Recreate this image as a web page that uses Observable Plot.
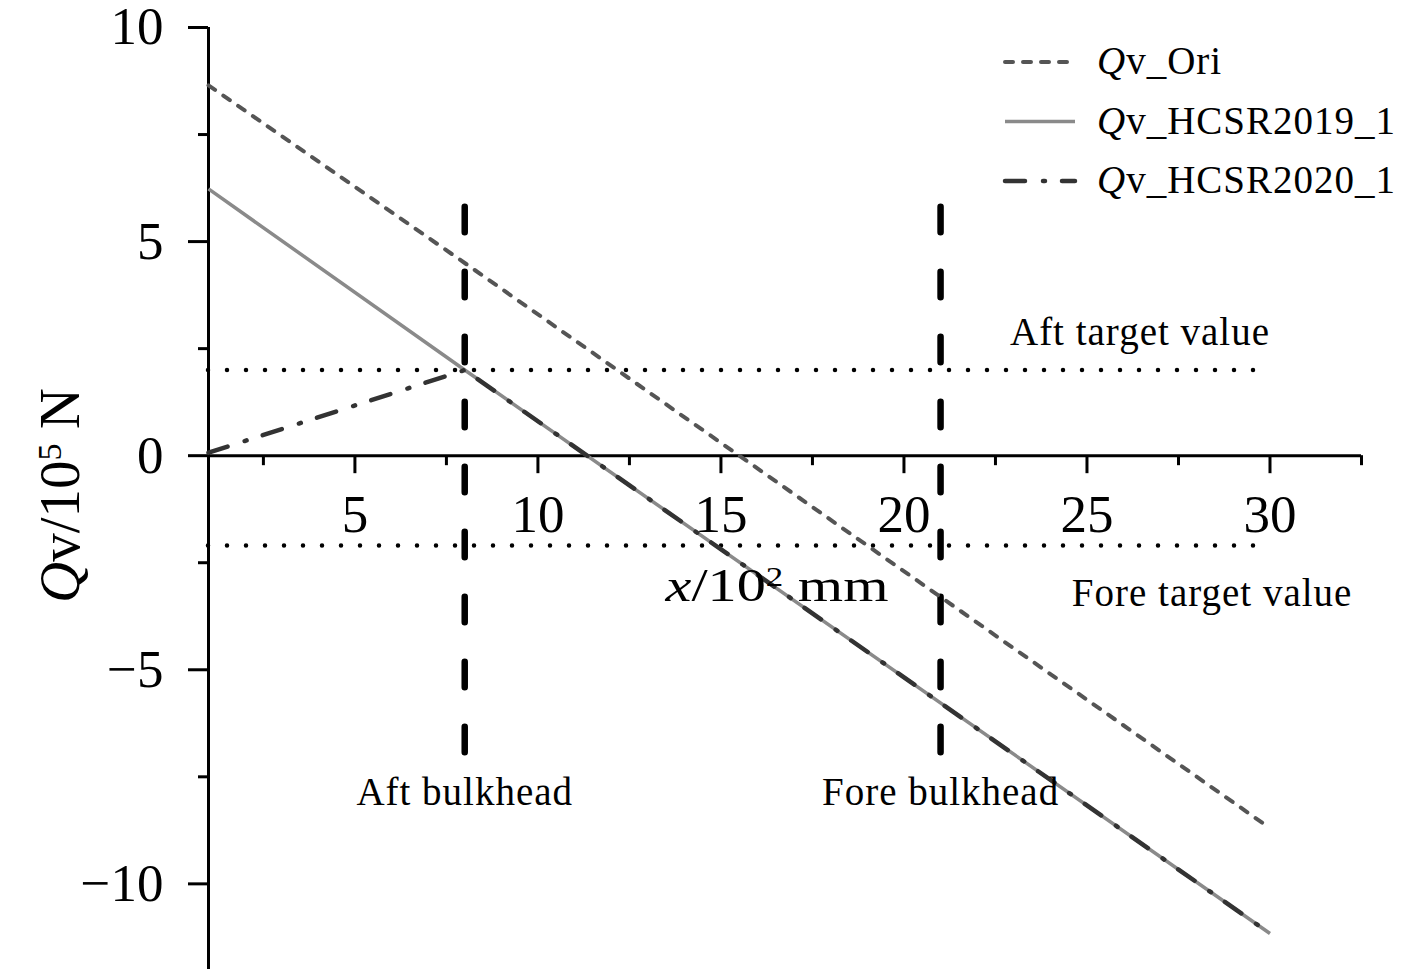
<!DOCTYPE html>
<html>
<head>
<meta charset="utf-8">
<script src="https://cdn.jsdelivr.net/npm/d3@7"></script>
<script src="https://cdn.jsdelivr.net/npm/@observablehq/plot@0.6"></script>
<style>
html, body { margin: 0; padding: 0; background: #fff; }
#wrap { position: relative; width: 1417px; height: 969px; overflow: hidden; background: #fff; }
#wrap svg { overflow: visible; }
#legend { position: absolute; left: 0; top: 0; pointer-events: none; }
</style>
</head>
<body>
<div id="wrap"></div>
<script>
// ---- data ----
const positions = [1, 8, 30];                 // x / 10^2 mm
const qvOri = [8.65, 4.5, -8.7];              // Qv / 10^5 N
const qvHCSR2019 = [6.23, 2.0, -11.16];
const qvHCSR2020 = [0.07, 2.0, -11.16];
const seriesNames = ["Ori", "HCSR2019_1", "HCSR2020_1"];

const bulkheadX = [8, 21];
const bulkheadLabels = ["Aft bulkhead", "Fore bulkhead"];
const targetY = [2, -2.1];
const targetLabels = ["Aft target value", "Fore target value"];
const targetLabelX = [30, 32.25];

const xMajorTicks = [5, 10, 15, 20, 25, 30];
const xMinorTicks = [2.5, 7.5, 12.5, 17.5, 22.5, 27.5, 32.5];
const yMajorTicks = [-10, -5, 0, 5, 10];
const yMinorTicks = [-7.5, -2.5, 2.5, 7.5];

const xLabel = "x/102 mm";
const yLabel = "Qv/105 N";

// ---- styles ----
const FONT = "'Liberation Serif', 'Times New Roman', serif";
const seriesStyle = {
  "Ori":        {stroke: "#555555", strokeWidth: 4,   strokeDasharray: "8,10", strokeLinecap: "round"},
  "HCSR2019_1": {stroke: "#8a8a8a", strokeWidth: 3.5, strokeDasharray: null,   strokeLinecap: "butt"},
  "HCSR2020_1": {stroke: "#333333", strokeWidth: 4.5, strokeDasharray: "20,18,2,17", strokeLinecap: "round"}
};
const seriesValues = [qvOri, qvHCSR2019, qvHCSR2020];
const table = seriesNames.flatMap((s, k) =>
  positions.map((x, i) => ({series: s, x, y: seriesValues[k][i]})));

const fmtY = d => d < 0 ? "\u2212" + Math.abs(d) : String(d);

const lineMarks = seriesNames.map(s => {
  const st = seriesStyle[s];
  const o = {x: "x", y: "y", stroke: st.stroke, strokeWidth: st.strokeWidth, strokeLinecap: st.strokeLinecap};
  if (st.strokeDasharray) o.strokeDasharray = st.strokeDasharray;
  return Plot.line(table.filter(d => d.series === s), o);
});

const ANN = 39;

const chart = Plot.plot({
  width: 1417,
  height: 969,
  marginLeft: 208,
  marginRight: 56,
  marginTop: 27,
  marginBottom: 0,
  x: {domain: [1, 32.5], axis: null},
  y: {domain: [-12, 10], axis: null},
  style: {fontFamily: FONT, background: "white", overflow: "visible", color: "black"},
  marks: [
    // target lines (dotted)
    Plot.ruleY(targetY, {y: d => d, x1: () => 1, x2: () => 30, stroke: "black",
      strokeWidth: 4.5, strokeDasharray: "0,19", strokeLinecap: "round"}),
    // bulkheads (dashed)
    Plot.ruleX(bulkheadX, {x: d => d, y1: () => 5.8, y2: () => -7.0, stroke: "black",
      strokeWidth: 6.5, strokeDasharray: "25.5,39.5", strokeLinecap: "round"}),
    // axes lines
    Plot.ruleX([1], {x: d => d, stroke: "black", strokeWidth: 3}),
    Plot.ruleY([0], {y: d => d, x1: () => 1, x2: () => 32.5, stroke: "black", strokeWidth: 3}),
    // y ticks
    Plot.ruleY(yMajorTicks, {y: d => d, x1: () => 1, x2: () => 1, insetLeft: -20, stroke: "black", strokeWidth: 3}),
    Plot.ruleY(yMinorTicks, {y: d => d, x1: () => 1, x2: () => 1, insetLeft: -10, stroke: "black", strokeWidth: 3}),
    // x ticks
    Plot.ruleX(xMajorTicks, {x: d => d, y1: () => 0, y2: () => 0, insetBottom: -18, stroke: "black", strokeWidth: 3}),
    Plot.ruleX(xMinorTicks, {x: d => d, y1: () => 0, y2: () => 0, insetBottom: -10, stroke: "black", strokeWidth: 3}),
    // tick labels
    Plot.text(xMajorTicks, {x: d => d, y: () => 0, text: d => String(d), dy: 59,
      fontSize: 53, fill: "black", lineAnchor: "middle"}),
    Plot.text(yMajorTicks, {x: () => 1, y: d => d, text: fmtY, dx: -45, textAnchor: "end",
      fontSize: 53, fill: "black", lineAnchor: "middle"}),
    // series
    ...lineMarks,
    // annotations
    Plot.text(targetLabels, {x: (d, i) => targetLabelX[i], y: (d, i) => targetY[i], text: d => d,
      textAnchor: "end", lineAnchor: "bottom", fontSize: ANN, fill: "black",
      filter: (d, i) => i === 0, dy: -25}),
    Plot.text(targetLabels, {x: (d, i) => targetLabelX[i], y: (d, i) => targetY[i], text: d => d,
      textAnchor: "end", lineAnchor: "bottom", fontSize: ANN, fill: "black",
      filter: (d, i) => i === 1, dy: 60}),
    Plot.text(bulkheadLabels, {x: (d, i) => bulkheadX[i], y: () => -7.0, text: d => d,
      lineAnchor: "bottom", dy: 50, fontSize: ANN, fill: "black"}),
    // axis labels
    Plot.text([yLabel], {frameAnchor: "left", text: d => d, rotate: -90, dx: -148, dy: -3,
      textAnchor: "middle", fontSize: 57, fill: "black", lineAnchor: "middle"}),
    Plot.text([xLabel], {frameAnchor: "middle", text: d => d, dx: -8, dy: 102,
      textAnchor: "middle", fontSize: 46, fill: "black", lineAnchor: "bottom"})
  ]
});

document.getElementById("wrap").appendChild(chart);

const annSet = new Set([...targetLabels, ...bulkheadLabels]);
// rich text for axis labels (italic symbol + superscript) and annotation spacing
d3.select(chart).selectAll("text").each(function () {
  const t = d3.select(this);
  const s = this.textContent;
  if (s === yLabel) {
    t.text("");
    t.append("tspan").attr("font-style", "italic").text("Q");
    t.append("tspan").text("v/10");
    t.append("tspan").attr("baseline-shift", "super").attr("font-size", "60%").text("5");
    t.append("tspan").text(" N");
  } else if (s === xLabel) {
    t.text("");
    t.append("tspan").attr("font-style", "italic").text("x");
    t.append("tspan").text("/10");
    t.append("tspan").attr("baseline-shift", "super").attr("font-size", "60%").text("2");
    t.append("tspan").text(" mm");
    t.attr("textLength", 223).attr("lengthAdjust", "spacingAndGlyphs");
  } else if (annSet.has(s)) {
    t.attr("letter-spacing", 1);
  }
});

// legend overlay
const legend = d3.select("#wrap").append("svg")
  .attr("id", "legend").attr("width", 1417).attr("height", 969)
  .style("font-family", FONT);
seriesNames.forEach((s, i) => {
  const st = seriesStyle[s];
  const yLine = 62 + i * 59.5;
  legend.append("line")
    .attr("x1", 1005).attr("x2", 1075).attr("y1", yLine).attr("y2", yLine)
    .attr("stroke", st.stroke).attr("stroke-width", st.strokeWidth)
    .attr("stroke-dasharray", st.strokeDasharray)
    .attr("stroke-linecap", st.strokeLinecap);
  const tx = legend.append("text").attr("x", 1097).attr("y", yLine + 12)
    .attr("font-size", 39).attr("letter-spacing", 1).attr("fill", "black");
  tx.append("tspan").attr("font-style", "italic").text("Q");
  tx.append("tspan").text("v_" + s);
});
</script>
</body>
</html>
